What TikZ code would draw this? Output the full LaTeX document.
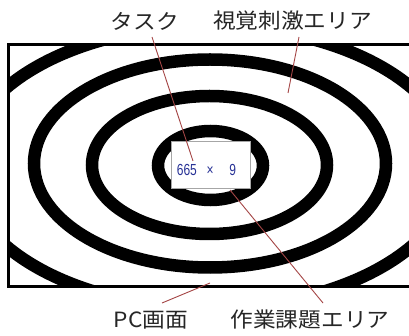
\documentclass[tikz,border=0pt]{standalone}
\usepackage{fontspec}
\newfontfamily\jpfont{Noto Sans CJK JP}
\newfontfamily\numfont{Liberation Sans}
\definecolor{leader}{RGB}{165,70,70}
\definecolor{numblue}{RGB}{40,50,150}
\newcommand{\widejp}[1]{\scalebox{1.08}[1]{#1}}
\begin{document}
\begin{tikzpicture}[x=1pt,y=-1pt,
  ring/.style={line width=12.5pt,black},
  frame/.style={line width=3pt,black},
  lbl/.style={font=\jpfont\fontsize{21}{21}\selectfont,text=black!85,inner sep=0pt},
  leaderline/.style={leader,line width=0.9pt},
  taskbox/.style={draw=black!35,line width=1pt,fill=white,minimum width=79pt,minimum height=47pt,inner sep=0pt}]
\useasboundingbox (0,0) rectangle (409,336);
\fill[white] (0,0) rectangle (409,336);
\begin{scope}
  \clip (8,45) rectangle (420,286);
  \draw[ring] (210.5,165.5) ellipse [x radius=52.5pt, y radius=34.5pt];
  \draw[ring] (209.5,165) ellipse [x radius=117.5pt, y radius=69pt];
  \draw[ring] (210,163.5) ellipse [x radius=176pt, y radius=104pt];
  \draw[ring] (209,167) ellipse [x radius=245pt, y radius=141pt];
\end{scope}
\draw[frame] (8,45) rectangle (420,286);
\node[taskbox] (box) at (210.5,165.5) {};
\node[font=\numfont\fontsize{16}{16}\selectfont,text=numblue,inner sep=0pt] (num) at (206.5,170)
  {\scalebox{0.75}[1]{665\hspace{13pt}×\hspace{21pt}9}};
\node[lbl] (task) at (145,21) {\widejp{タスク}};
\node[lbl] (visual) at (292.5,21) {\widejp{視覚刺激エリア}};
\node[lbl] (pc) at (151,320) {\widejp{PC画面}};
\node[lbl] (work) at (310,320) {\widejp{作業課題エリア}};
\coordinate (taskend) at (193,161);
\coordinate (visend) at (288,93);
\coordinate (pcend) at (210,283);
\coordinate (workend) at (230,190);
\coordinate (taskstart) at (152,37);
\coordinate (visstart) at (299,37);
\coordinate (pcstart) at (162,303);
\coordinate (workstart) at (323,303);
\draw[leaderline] (taskstart) -- (taskend);
\draw[leaderline] (visstart) -- (visend);
\draw[leaderline] (pcstart) -- (pcend);
\draw[leaderline] (workstart) -- (workend);
\end{tikzpicture}
\end{document}
